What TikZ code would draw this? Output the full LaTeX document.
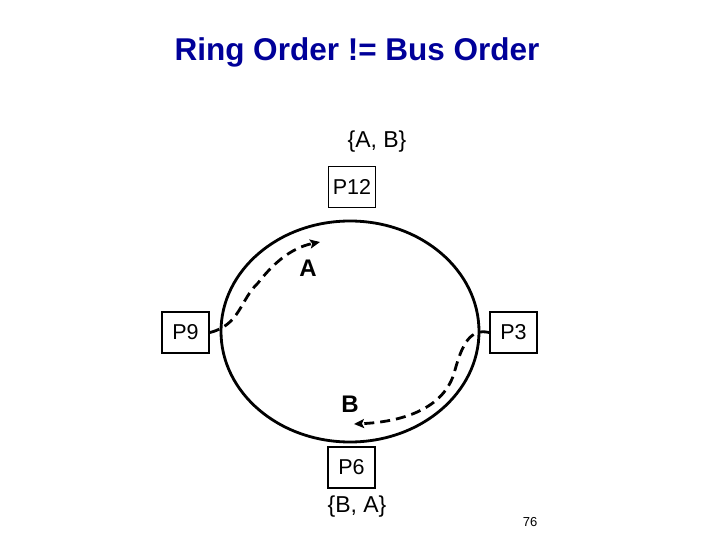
\documentclass[tikz,border=0pt]{standalone}
\usepackage{fontspec}
\setmainfont{Liberation Sans}
\usetikzlibrary{arrows.meta}
\definecolor{titleblue}{RGB}{0,0,153}
\begin{document}
\begin{tikzpicture}[x=1pt,y=-1pt,
  proc/.style={draw,line width=1.8pt,minimum width=47pt,minimum height=41pt,inner sep=0pt,font=\fontsize{21.5}{24}\selectfont},
  settext/.style={font=\fontsize{23}{27}\selectfont},
  msg/.style={font=\bfseries\fontsize{24}{28}\selectfont},
  flow/.style={line width=2.8pt,dash pattern=on 10pt off 6pt,-{Stealth[length=10pt,width=9pt,inset=2pt]}}]
\useasboundingbox (0,0) rectangle (720,540);
\node[font=\bfseries\fontsize{31.5}{36}\selectfont,text=titleblue] (title) at (357,52) {Ring Order != Bus Order};
\draw[line width=2.8pt] (350,331.5) ellipse [x radius=129pt, y radius=110.5pt];
\node[proc] (p12) at (352,187) {P12};
\node[proc] (p9) at (185.5,332.5) {P9};
\node[proc] (p3) at (513.5,332.5) {P3};
\node[proc] (p6) at (351.5,467.5) {P6};
\node[settext] (ab) at (377,142) {\{A, B\}};
\node[settext] (ba) at (357,507) {\{B, A\}};
\node[msg] (la) at (308,268) {A};
\node[msg] (lb) at (350,404) {B};
\node[font=\fontsize{13}{15}\selectfont] (pg) at (530,522) {76};
\coordinate (ta) at (320,242);
\coordinate (tb) at (354,424);
\draw[flow] (p9.east) .. controls (240,325) and (240,300) .. (258,283)
  .. controls (272,265) and (290,248) .. (ta);
\draw[flow] (p3.west) .. controls (470,328) and (462,345) .. (455,370)
  .. controls (445,410) and (400,422) .. (tb);
\end{tikzpicture}
\end{document}
